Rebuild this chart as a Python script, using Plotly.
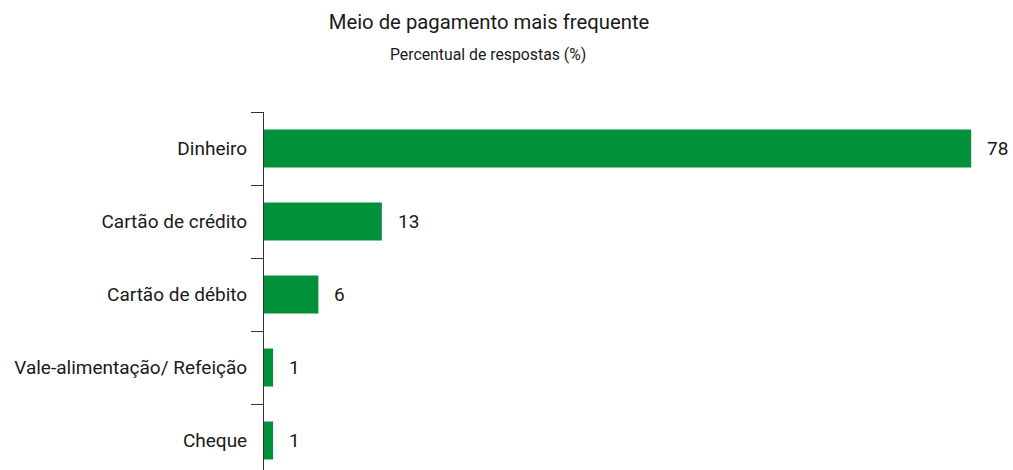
import plotly.graph_objects as go

categories = ["Dinheiro", "Cartão de crédito", "Cartão de débito", "Vale-alimentação/ Refeição", "Cheque"]
values = [78, 13, 6, 1, 1]
labels = ["78", "13", "6", "1", "1"]

FONT = "Roboto, Arial, sans-serif"
GREEN = "#00913A"
TXT = "#1a1a1a"

fig = go.Figure()
fig.add_trace(go.Bar(
    y=categories, x=values, orientation="h",
    marker=dict(color=GREEN, line=dict(width=0)),
    width=0.52, hoverinfo="x+y",
))

for c, v, t in zip(categories, values, labels):
    fig.add_annotation(x=v, y=c, text=t, showarrow=False, xanchor="left",
                       xshift=14, font=dict(family=FONT, size=19, color=TXT))

fig.update_layout(
    width=1013, height=470,
    margin=dict(l=264, r=40, t=112, b=0, autoexpand=False),
    paper_bgcolor="white", plot_bgcolor="white",
    showlegend=False,
    font=dict(family=FONT, color=TXT),
    title=dict(text="Meio de pagamento mais frequente", x=489/1013, xref="container",
               xanchor="center", y=1-22/470, yref="container", yanchor="middle",
               font=dict(family=FONT, size=20.3, color=TXT)),
    annotations=list(fig.layout.annotations) + [
        dict(text="Percentual de respostas (%)", xref="paper", yref="paper",
             x=(488-264)/709, y=1 + (112-55)/358, xanchor="center", yanchor="middle",
             showarrow=False, font=dict(family=FONT, size=15.8, color=TXT))
    ],
)
fig.update_xaxes(range=[0, 78.2], visible=False, showgrid=False, zeroline=False)
fig.update_yaxes(
    type="category", categoryorder="array", categoryarray=categories,
    range=[4.404, -0.5], showline=True, linecolor="#333", linewidth=1,
    ticks="outside", ticklen=12, tickcolor="#333", tickwidth=1,
    tickson="boundaries", showgrid=False, zeroline=False, automargin=False,
    tickfont=dict(family=FONT, size=19, color=TXT), ticklabelstandoff=12,
)

fig.write_html("out.html", config={"displayModeBar": False},
               post_script="document.body.style.margin='0';document.body.style.padding='0';")
